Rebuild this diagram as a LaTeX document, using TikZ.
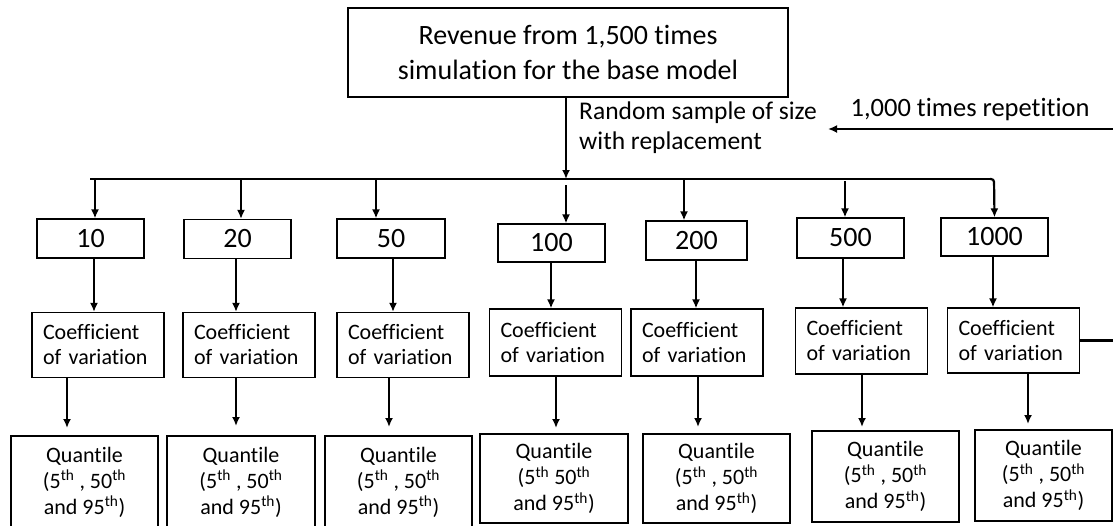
\documentclass[tikz,border=0pt]{standalone}
\usepackage{fontspec}
\setmainfont{Carlito}[RawFeature={-liga;-clig}]
\usetikzlibrary{arrows.meta}
\begin{document}
\begin{tikzpicture}[x=1pt,y=-1pt,
  box/.style={draw, line width=1.2pt, inner sep=0pt, align=center},
  topbox/.style={box, font=\fontsize{28}{35}\selectfont},
  numbox/.style={box, minimum width=107pt, minimum height=39pt, font=\fontsize{28}{34}\selectfont},
  covbox/.style={draw, line width=1.2pt, inner xsep=11pt, inner ysep=0pt, align=left, text width=110pt, minimum height=65pt, font=\fontsize{22}{25}\selectfont},
  qbox/.style={box, font=\fontsize{22}{26}\selectfont},
  lbl/.style={inner sep=0pt, align=left},
  arr/.style={line width=2.2pt, -{Latex[length=9pt,width=8pt]}},
  busline/.style={line width=2.8pt}
]
\useasboundingbox (0,0) rectangle (1113,525);

% top box
\node[topbox, minimum width=440pt, minimum height=89pt] (top) at (568,52.5) {Revenue from 1,500 times\\simulation for the base model};

% labels
\node[lbl, anchor=west, font=\fontsize{25.5}{30}\selectfont] (rs) at (579,128) {Random sample of size\\with replacement};
\node[lbl, font=\fontsize{26.5}{30}\selectfont] (rep) at (970,110) {1,000 times repetition};
\coordinate (reptip) at (828,129);

% number boxes
\node[numbox] (n10) at (90.5,238.5) {10};
\node[numbox] (n20) at (237.5,239) {20};
\node[numbox, minimum width=108pt] (n50) at (391,238.5) {50};
\node[numbox, minimum height=38pt] (n100) at (551.5,243) {100};
\node[numbox, minimum width=101pt] (n200) at (696.5,240.5) {200};
\node[numbox, minimum height=40pt] (n500) at (850.5,238) {500};
\node[numbox, minimum height=38pt] (n1000) at (994.5,237) {1000};

% coefficient boxes
\node[covbox] (c1) at (98,345) {Coefficient\\of variation};
\node[covbox] (c2) at (249,345) {Coefficient\\of variation};
\node[covbox] (c3) at (403,345) {Coefficient\\of variation};
\node[covbox, minimum height=67pt] (c4) at (555.5,342.5) {Coefficient\\of variation};
\node[covbox, minimum height=67pt] (c5) at (697,342.5) {Coefficient\\of variation};
\node[covbox, minimum height=66pt] (c6) at (861.5,341) {Coefficient\\of variation};
\node[covbox] (c7) at (1013.5,340.5) {Coefficient\\of variation};

% quantile boxes
\node[qbox, minimum width=147pt, minimum height=92pt] (q1) at (84.5,482) {Quantile\\(5\textsuperscript{th} , 50\textsuperscript{th}\\and 95\textsuperscript{th})};
\node[qbox, minimum width=148pt, minimum height=92pt] (q2) at (241,482) {Quantile\\(5\textsuperscript{th} , 50\textsuperscript{th}\\and 95\textsuperscript{th})};
\node[qbox, minimum width=147pt, minimum height=92pt] (q3) at (398.5,482) {Quantile\\(5\textsuperscript{th} , 50\textsuperscript{th}\\and 95\textsuperscript{th})};
\node[qbox, minimum width=148pt, minimum height=89pt] (q4) at (554,478.5) {Quantile\\(5\textsuperscript{th} 50\textsuperscript{th}\\and 95\textsuperscript{th})};
\node[qbox, minimum width=147pt, minimum height=89pt] (q5) at (716.5,478.5) {Quantile\\(5\textsuperscript{th} , 50\textsuperscript{th}\\and 95\textsuperscript{th})};
\node[qbox, minimum width=147pt, minimum height=91pt] (q6) at (885.5,476.5) {Quantile\\(5\textsuperscript{th} , 50\textsuperscript{th}\\and 95\textsuperscript{th})};
\node[qbox, minimum width=137pt, minimum height=91pt] (q7) at (1043.5,475.5) {Quantile\\(5\textsuperscript{th} , 50\textsuperscript{th}\\and 95\textsuperscript{th})};

% bus
\coordinate (bt) at (566,179);
\coordinate (b10) at (95,179);
\coordinate (b20) at (241,179);
\coordinate (b50) at (376,179);
\coordinate (b100) at (566,179);
\coordinate (b200) at (684,179);
\coordinate (b500) at (845,179);
\coordinate (b1000) at (994,179);
\coordinate (bl) at (90,179);

\draw[arr] (top.south -| bt) -- (bt);
\draw[busline] (bl) -- ([xshift=-3pt]b1000);
\draw[arr, rounded corners=3pt] ([xshift=-4pt]b1000) -- (b1000) -- (n1000.north);
\draw[arr] (b10) -- (b10 |- n10.north);
\draw[arr] (b20) -- (b20 |- n20.north);
\draw[arr] (b50) -- (b50 |- n50.north);
\draw[arr] ([yshift=-6pt]b100) -- (b100 |- n100.north);
\draw[arr] (b200) -- (b200 |- n200.north);
\draw[arr] ([yshift=-2pt]b500) -- (b500 |- n500.north);

% number -> coefficient
\coordinate (k1) at (94,0);
\coordinate (k2) at (236,0);
\coordinate (k3) at (393,0);
\coordinate (k4) at (551,0);
\coordinate (k5) at (696,0);
\coordinate (k6) at (843,0);
\coordinate (k7) at (993,0);
\draw[arr] (n10.south -| k1) -- (c1.north -| k1);
\draw[arr] (n20.south -| k2) -- (c2.north -| k2);
\draw[arr] (n50.south -| k3) -- (c3.north -| k3);
\draw[arr] (n100.south -| k4) -- (c4.north -| k4);
\draw[arr] (n200.south -| k5) -- (c5.north -| k5);
\draw[arr] (n500.south -| k6) -- (c6.north -| k6);
\draw[arr] (n1000.south -| k7) -- (c7.north -| k7);

% coefficient -> quantile
\coordinate (t1) at (67,428);
\coordinate (t2) at (236,426);
\coordinate (t3) at (389,427);
\coordinate (t4) at (556,428);
\coordinate (t5) at (698,427);
\coordinate (t6) at (862,427);
\coordinate (t7) at (1028,424);
\draw[arr] (c1.south -| t1) -- (t1);
\draw[arr] (c2.south -| t2) -- (t2);
\draw[arr] (c3.south -| t3) -- (t3);
\draw[arr] (c4.south -| t4) -- (t4);
\draw[arr] (c5.south -| t5) -- (t5);
\draw[arr] (c6.south -| t6) -- (t6);
\draw[arr] (c7.south -| t7) -- (t7);

% repetition loop (vertical part lies outside the picture)
\draw[arr] (c7.east) -- (1125,340.5) -- (1125,129) -- (reptip);
\end{tikzpicture}
\end{document}
